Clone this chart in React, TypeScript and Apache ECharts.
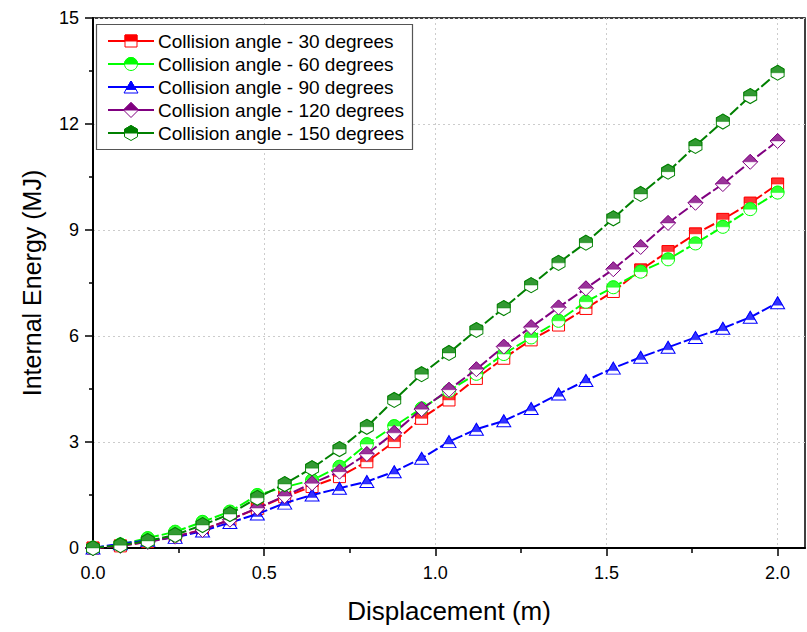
import React, { useEffect, useRef } from "react";
import * as echarts from "echarts";

const displacement = [0, 0.08, 0.16, 0.24, 0.32, 0.4, 0.48, 0.56, 0.64, 0.72, 0.8, 0.88, 0.96, 1.04, 1.12, 1.2, 1.28, 1.36, 1.44, 1.52, 1.6, 1.68, 1.76, 1.84, 1.92, 2.0];

const angle30 = [0, 0.06, 0.18, 0.32, 0.52, 0.8, 1.12, 1.45, 1.74, 2.02, 2.44, 3.01, 3.67, 4.19, 4.8, 5.37, 5.89, 6.31, 6.78, 7.26, 7.87, 8.39, 8.89, 9.3, 9.76, 10.3];
const angle60 = [0, 0.1, 0.28, 0.46, 0.74, 1.03, 1.5, 1.72, 1.92, 2.3, 2.94, 3.45, 3.95, 4.45, 4.93, 5.49, 5.96, 6.43, 6.97, 7.38, 7.82, 8.17, 8.62, 9.09, 9.59, 10.06];
const angle90 = [0, 0.12, 0.22, 0.3, 0.48, 0.72, 0.96, 1.27, 1.5, 1.69, 1.88, 2.16, 2.54, 3.01, 3.36, 3.6, 3.95, 4.36, 4.74, 5.09, 5.4, 5.68, 5.96, 6.22, 6.53, 6.94];
const angle120 = [0, 0.06, 0.17, 0.32, 0.51, 0.8, 1.13, 1.47, 1.83, 2.16, 2.66, 3.26, 3.93, 4.48, 5.06, 5.7, 6.25, 6.81, 7.35, 7.89, 8.52, 9.2, 9.77, 10.3, 10.93, 11.52];
const angle150 = [0, 0.08, 0.2, 0.37, 0.65, 0.96, 1.42, 1.81, 2.26, 2.8, 3.43, 4.19, 4.92, 5.52, 6.17, 6.79, 7.44, 8.07, 8.64, 9.33, 10.02, 10.65, 11.38, 12.07, 12.79, 13.45];

const seriesNames = [
  "Collision angle - 30 degrees",
  "Collision angle - 60 degrees",
  "Collision angle - 90 degrees",
  "Collision angle - 120 degrees",
  "Collision angle - 150 degrees",
];
const seriesValues = [angle30, angle60, angle90, angle120, angle150];
const seriesColors = ["#ff0000", "#00ff00", "#0000ff", "#800080", "#008000"];

const xMajorTicks = [0, 0.5, 1.0, 1.5, 2.0];
const xMinorTicks = [0.25, 0.75, 1.25, 1.75];

const HEX_FULL = "path://M50,0L93.3,25L93.3,75L50,100L6.7,75L6.7,25Z";
const HEX_HALF = "path://M50,0L93.3,25L93.3,50L6.7,50L6.7,25Z";
const SEMI = "path://M0,10A10,10,0,0,1,20,10Z";

const markerDefs = [
  { full: "rect", fullSize: [12, 12], half: "rect", halfSize: [12, 6], halfOffset: -3 },
  { full: "circle", fullSize: [13, 13], half: SEMI, halfSize: [13, 6.5], halfOffset: -3.25 },
  { full: "triangle", fullSize: [14, 12], half: "triangle", halfSize: [9.8, 8.4], halfOffset: -1.8 },
  { full: "diamond", fullSize: [15, 15], half: "triangle", halfSize: [15, 7.5], halfOffset: -3.75 },
  { full: HEX_FULL, fullSize: [13, 15], half: HEX_HALF, halfSize: [13, 7.5], halfOffset: -3.75 },
];

function legendMarker(i: number, cx: number, cy: number, color: string): any[] {
  const els: any[] = [];
  const hollow = { fill: "#fff", stroke: color, lineWidth: 1 };
  const filled = { fill: color, stroke: color, lineWidth: 1 };
  if (i === 0) {
    els.push({ type: "rect", shape: { x: cx - 6, y: cy - 6, width: 12, height: 12 }, style: hollow });
    els.push({ type: "rect", shape: { x: cx - 6, y: cy - 6, width: 12, height: 6 }, style: filled });
  } else if (i === 1) {
    els.push({ type: "circle", shape: { cx, cy, r: 6.5 }, style: hollow });
    els.push({ type: "sector", shape: { cx, cy, r0: 0, r: 6.5, startAngle: Math.PI, endAngle: Math.PI * 2, clockwise: true }, style: filled });
  } else if (i === 2) {
    els.push({ type: "polygon", shape: { points: [[cx, cy - 6], [cx + 7, cy + 6], [cx - 7, cy + 6]] }, style: hollow });
    els.push({ type: "polygon", shape: { points: [[cx, cy - 6], [cx + 4.9, cy + 2.4], [cx - 4.9, cy + 2.4]] }, style: filled });
  } else if (i === 3) {
    els.push({ type: "polygon", shape: { points: [[cx, cy - 7.5], [cx + 7.5, cy], [cx, cy + 7.5], [cx - 7.5, cy]] }, style: hollow });
    els.push({ type: "polygon", shape: { points: [[cx, cy - 7.5], [cx + 7.5, cy], [cx - 7.5, cy]] }, style: filled });
  } else {
    const w = 6.5, h = 7.5;
    els.push({ type: "polygon", shape: { points: [[cx, cy - h], [cx + w, cy - h / 2], [cx + w, cy + h / 2], [cx, cy + h], [cx - w, cy + h / 2], [cx - w, cy - h / 2]] }, style: hollow });
    els.push({ type: "polygon", shape: { points: [[cx, cy - h], [cx + w, cy - h / 2], [cx + w, cy], [cx - w, cy], [cx - w, cy - h / 2]] }, style: filled });
  }
  return els;
}

export default function App() {
  const ref = useRef<HTMLDivElement>(null);

  useEffect(() => {
    if (!ref.current) return;
    const chart = echarts.init(ref.current, null, { renderer: "svg" });

    const series: any[] = [];
    seriesValues.forEach((vals, i) => {
      const data = displacement.map((x, k) => [x, vals[k]]);
      const m = markerDefs[i];
      const c = seriesColors[i];
      series.push({
        name: seriesNames[i],
        type: "line",
        data,
        z: 2 + 2 * i,
        symbol: m.full,
        symbolSize: m.fullSize,
        showSymbol: true,
        showAllSymbol: true,
        lineStyle: { color: c, width: 2, type: [11, 3] },
        itemStyle: { color: "#ffffff", borderColor: c, borderWidth: 1 },
        emphasis: { disabled: true },
      });
      series.push({
        name: seriesNames[i] + " fill",
        type: "scatter",
        data,
        z: 3 + 2 * i,
        symbol: m.half,
        symbolSize: m.halfSize,
        symbolOffset: [0, m.halfOffset],
        itemStyle: { color: c, borderColor: c, borderWidth: 0.5 },
        emphasis: { disabled: true },
      });
    });

    const legendEls: any[] = [
      { type: "rect", shape: { x: 96.5, y: 24.5, width: 316, height: 125 }, style: { fill: "#fff", stroke: "#555", lineWidth: 1.2 }, z: 100 },
    ];
    seriesNames.forEach((name, i) => {
      const cy = 41 + i * 23;
      const c = seriesColors[i];
      legendEls.push({ type: "line", shape: { x1: 108, y1: cy, x2: 154, y2: cy }, style: { stroke: c, lineWidth: 2 }, z: 101 });
      legendMarker(i, 131, cy, c).forEach((e) => legendEls.push({ ...e, z: 102 }));
      legendEls.push({
        type: "text",
        x: 158,
        y: cy,
        style: { text: name, fill: "#000", fontSize: 19, fontFamily: "Liberation Sans, Arial, sans-serif", verticalAlign: "middle", align: "left" },
        z: 102,
      });
    });

    const axisFont = { color: "#000", fontSize: 18, fontFamily: "Liberation Sans, Arial, sans-serif" };

    chart.setOption({
      animation: false,
      backgroundColor: "#ffffff",
      grid: { left: 93, right: 2, top: 18, bottom: 84, show: true, borderColor: "#000", borderWidth: 1.5, containLabel: false },
      xAxis: [
        {
          type: "value",
          min: 0,
          max: 2.08,
          interval: 0.5,
          position: "bottom",
          name: "Displacement (m)",
          nameLocation: "middle",
          nameGap: 50,
          nameTextStyle: { color: "#000", fontSize: 26, fontFamily: "Liberation Sans, Arial, sans-serif" },
          axisLine: { show: true, lineStyle: { color: "#000", width: 2 } },
          axisTick: { show: true, inside: false, length: 8, lineStyle: { color: "#000", width: 1.5 }, customValues: xMajorTicks },
          axisLabel: { ...axisFont, margin: 16, customValues: xMajorTicks, formatter: (v: number) => v.toFixed(1) },
          splitLine: { show: true, lineStyle: { color: "#cccccc", width: 1, type: [2, 3] } },
          minorTick: { show: false },
        },
        {
          type: "value",
          min: 0,
          max: 2.08,
          interval: 0.5,
          position: "bottom",
          axisLine: { show: false },
          axisTick: { show: true, inside: false, length: 5, lineStyle: { color: "#000", width: 1.5 }, customValues: xMinorTicks },
          axisLabel: { show: false },
          splitLine: { show: false },
        },
      ],
      yAxis: {
        type: "value",
        min: 0,
        max: 15,
        interval: 3,
        name: "Internal Energy (MJ)",
        nameLocation: "middle",
        nameGap: 49,
        nameTextStyle: { color: "#000", fontSize: 25, fontFamily: "Liberation Sans, Arial, sans-serif" },
        axisLine: { show: true, lineStyle: { color: "#000", width: 2 } },
        axisTick: { show: true, inside: false, length: 8, lineStyle: { color: "#000", width: 1.5 } },
        minorTick: { show: true, splitNumber: 2, length: 4, lineStyle: { color: "#000", width: 1.5 } },
        axisLabel: { ...axisFont, margin: 14 },
        splitLine: { show: true, lineStyle: { color: "#cccccc", width: 1, type: [2, 3] } },
      },
      series,
      graphic: { elements: legendEls },
    });

    return () => chart.dispose();
  }, []);

  return (
    <div
      ref={ref}
      style={{ position: "absolute", left: 0, top: 0, width: 807, height: 632, background: "#fff" }}
    />
  );
}
